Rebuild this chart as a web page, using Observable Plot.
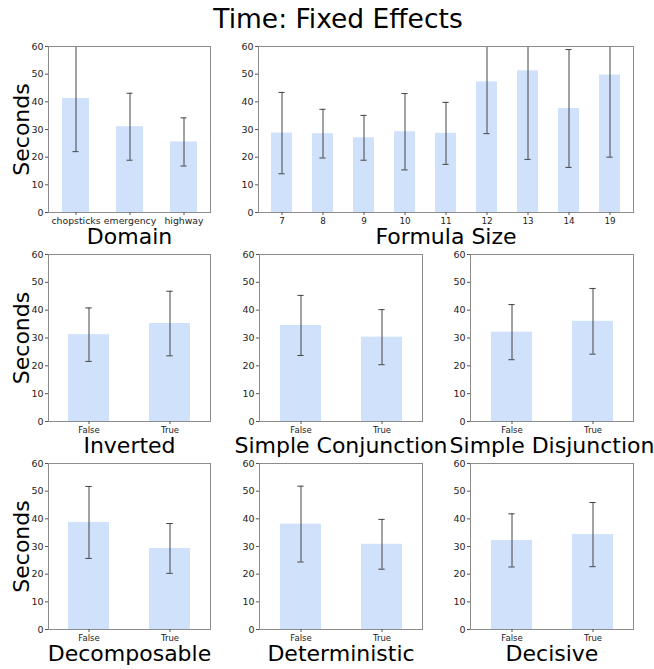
<!DOCTYPE html>
<html><head><meta charset="utf-8">
<script src="https://cdn.jsdelivr.net/npm/d3@7"></script>
<script src="https://cdn.jsdelivr.net/npm/@observablehq/plot@0.6"></script>
<style>
body{margin:0;background:#fff;font-family:"DejaVu Sans",sans-serif;}
#fig{position:relative;width:654px;height:669px;overflow:hidden;background:#fff;}
#title{position:absolute;left:0;width:676px;top:3px;text-align:center;font-size:26.5px;color:#000;line-height:normal;}
.panel{position:absolute;}
</style></head><body>
<div id="fig"><div id="title">Time: Fixed Effects</div></div>
<script>
// ---- data ----
const yTicks = [0, 10, 20, 30, 40, 50, 60];
const boolCats = ["False", "True"];

const domainCats = ["chopsticks", "emergency", "highway"];
const domainMean = [41.2, 31.0, 25.5];
const domainErr  = [19.2, 12.1, 8.7];

const sizeCats = ["7", "8", "9", "10", "11", "12", "13", "14", "19"];
const sizeMean = [28.7, 28.5, 27.0, 29.2, 28.6, 47.2, 51.2, 37.6, 49.7];
const sizeErr  = [14.7, 8.8, 8.1, 13.8, 11.2, 18.7, 32.0, 21.3, 29.7];

const invertedMean = [31.2, 35.2];
const invertedErr  = [9.6, 11.6];
const conjMean = [34.5, 30.3];
const conjErr  = [10.8, 9.9];
const disjMean = [32.1, 36.0];
const disjErr  = [9.9, 11.8];
const decompMean = [38.7, 29.3];
const decompErr  = [13.0, 9.0];
const detMean = [38.1, 30.8];
const detErr  = [13.7, 9.0];
const decisiveMean = [32.2, 34.3];
const decisiveErr  = [9.6, 11.6];

// ---- layout ----
const panels = [
  {label: "Domain", cats: domainCats, mean: domainMean, err: domainErr, left: 48, top: 46, w: 162, h: 166, ylab: true, xfs: 9.3},
  {label: "Formula Size", cats: sizeCats, mean: sizeMean, err: sizeErr, left: 258, top: 46, w: 375, h: 166, ylab: false, xfs: 8.8},
  {label: "Inverted", cats: boolCats, mean: invertedMean, err: invertedErr, left: 48, top: 254, w: 162, h: 167, ylab: true, xfs: 8.5},
  {label: "Simple Conjunction", cats: boolCats, mean: conjMean, err: conjErr, left: 259, top: 254, w: 163, h: 167, ylab: false, xfs: 8.5},
  {label: "Simple Disjunction", cats: boolCats, mean: disjMean, err: disjErr, left: 470, top: 254, w: 163, h: 167, ylab: false, xfs: 8.5},
  {label: "Decomposable", cats: boolCats, mean: decompMean, err: decompErr, left: 48, top: 463, w: 162, h: 166, ylab: true, xfs: 8.5},
  {label: "Deterministic", cats: boolCats, mean: detMean, err: detErr, left: 259, top: 463, w: 163, h: 166, ylab: false, xfs: 8.5},
  {label: "Decisive", cats: boolCats, mean: decisiveMean, err: decisiveErr, left: 470, top: 463, w: 163, h: 166, ylab: false, xfs: 8.5}
];

const fig = document.getElementById("fig");
const mL = 45, mR = 10, mT = 10, mB = 45;
const capW = 6;

for (const p of panels) {
  const data = p.cats.map((c, i) => ({cat: c, mean: p.mean[i], lo: p.mean[i] - p.err[i], hi: p.mean[i] + p.err[i]}));
  const bw = p.w / p.cats.length * 0.5;
  const inset = (bw - capW) / 2;
  const marks = [
    Plot.barY(data, {x: "cat", y: "mean", fill: "#d0e1fb"}),
    Plot.ruleX(data, {x: "cat", y1: "lo", y2: "hi", stroke: "#444", strokeWidth: 1, clip: true}),
    Plot.tickY(data.filter(d => d.hi <= 60), {x: "cat", y: "hi", stroke: "#444", strokeWidth: 1, insetLeft: inset, insetRight: inset}),
    Plot.tickY(data, {x: "cat", y: "lo", stroke: "#444", strokeWidth: 1, insetLeft: inset, insetRight: inset}),
    Plot.frame({stroke: "#8c8c8c", strokeWidth: 1}),
    Plot.axisY({ticks: yTicks, tickSize: 3, tickPadding: 2, fontSize: 9.5, label: null, stroke: "#555"}),
    Plot.axisX({tickSize: 3, tickPadding: 2, fontSize: p.xfs, label: null, stroke: "#555"}),
    Plot.text([p.label], {text: d => d, frameAnchor: "bottom", lineAnchor: "middle", textAnchor: "middle", dy: 24, fontSize: 22, fill: "#000"})
  ];
  if (p.ylab) marks.push(Plot.text(["Seconds"], {text: d => d, frameAnchor: "left", lineAnchor: "middle", textAnchor: "middle", rotate: -90, dx: -27, fontSize: 22, fill: "#000"}));
  const chart = Plot.plot({
    width: p.w + mL + mR,
    height: p.h + mT + mB,
    marginLeft: mL, marginRight: mR, marginTop: mT, marginBottom: mB,
    style: {background: "none", overflow: "visible", fontFamily: "DejaVu Sans", color: "#222"},
    x: {type: "band", domain: p.cats, paddingInner: 0.5, paddingOuter: 0.25},
    y: {domain: [0, 60], nice: false},
    marks
  });
  chart.classList.add("panel");
  chart.style.position = "absolute";
  chart.style.left = (p.left - mL) + "px";
  chart.style.top = (p.top - mT) + "px";
  chart.style.maxWidth = "none";
  fig.appendChild(chart);
}
</script>
</body></html>
